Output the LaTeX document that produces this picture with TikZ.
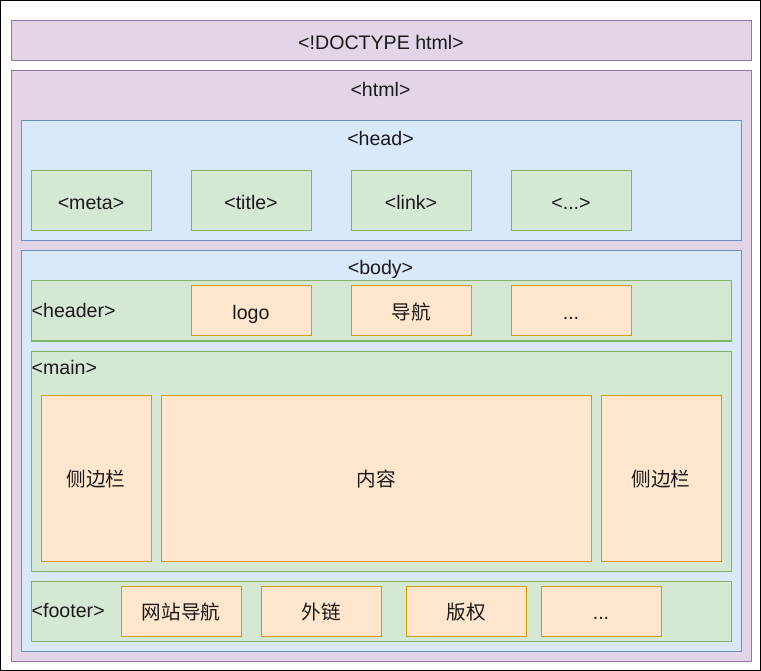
\documentclass[tikz,border=0pt]{standalone}
\usepackage{fontspec}
\setmainfont{Liberation Sans}
\newfontfamily\cjk{Noto Sans CJK SC}
\definecolor{pfill}{HTML}{E1D5E7}
\definecolor{pdraw}{HTML}{9673A6}
\definecolor{bfill}{HTML}{DAE8FC}
\definecolor{bdraw}{HTML}{6C8EBF}
\definecolor{gfill}{HTML}{D5E8D4}
\definecolor{gdraw}{HTML}{82B366}
\definecolor{ofill}{HTML}{FFE6CC}
\definecolor{odraw}{HTML}{D79B00}
\definecolor{txt}{HTML}{1A1A1A}
\tikzset{
  every node/.style={font=\fontsize{19.6pt}{23pt}\selectfont, text=txt},
  boxbase/.style={rectangle, line width=1pt, anchor=north west, inner sep=0pt,
    text height=17pt, text depth=0.4pt},
  purplebox/.style={boxbase, fill=pfill, draw=pdraw},
  bluebox/.style={boxbase, fill=bfill, draw=bdraw},
  greenbox/.style={boxbase, fill=gfill, draw=gdraw},
  orangebox/.style={boxbase, fill=ofill, draw=odraw},
  toplabel/.style={anchor=base, inner sep=0pt},
  leftlabel/.style={anchor=base west, inner sep=0pt},
}
\begin{document}
\begin{tikzpicture}[x=1pt, y=-1pt]
\useasboundingbox (0,0) rectangle (761,671);
\draw[line width=1.2pt, black] (0.6,0.6) rectangle (760.4,670.4);

% DOCTYPE
\node[purplebox, minimum width=740pt, minimum height=40pt] (doctype) at (10.5,20.5) {<!DOCTYPE html>};

% html
\node[purplebox, minimum width=740pt, minimum height=590pt] (html) at (10.5,70.5) {};
\node[toplabel] (htmllbl) at (380.5,97) {<html>};

% head
\node[bluebox, minimum width=720pt, minimum height=120pt] (head) at (20.5,120.5) {};
\node[toplabel] (headlbl) at (380.5,146) {<head>};
\node[greenbox, minimum width=120pt, minimum height=60pt] (meta) at (30.5,170.5) {<meta>};
\node[greenbox, minimum width=120pt, minimum height=60pt] (title) at (190.5,170.5) {<title>};
\node[greenbox, minimum width=120pt, minimum height=60pt] (link) at (350.5,170.5) {<link>};
\node[greenbox, minimum width=120pt, minimum height=60pt] (etc) at (510.5,170.5) {<...>};

% body
\node[bluebox, minimum width=720pt, minimum height=400pt] (body) at (20.5,250.5) {};
\node[toplabel] (bodylbl) at (380.5,275) {<body>};

% header
\node[greenbox, minimum width=700pt, minimum height=60pt] (header) at (30.5,280.5) {};
\node[leftlabel] (headerlbl) at (31.5,317.3) {<header>};
\node[orangebox, minimum width=120pt, minimum height=50pt] (logo) at (190.5,285.5) {logo};
\node[orangebox, minimum width=120pt, minimum height=50pt] (nav) at (350.5,285.5) {\cjk 导航};
\node[orangebox, minimum width=120pt, minimum height=50pt] (hetc) at (510.5,285.5) {...};

% main
\node[greenbox, minimum width=700pt, minimum height=220pt] (main) at (30.5,350.5) {};
\node[leftlabel] (mainlbl) at (31.5,374) {<main>};
\node[orangebox, minimum width=110pt, minimum height=166pt] (sideL) at (40.5,394.5) {\cjk 侧边栏};
\node[orangebox, minimum width=430pt, minimum height=166pt] (content) at (160.5,394.5) {\cjk 内容};
\node[orangebox, minimum width=120pt, minimum height=166pt] (sideR) at (600.5,394.5) {\cjk 侧边栏};

% footer
\node[greenbox, minimum width=700pt, minimum height=60pt] (footer) at (30.5,580.5) {};
\node[leftlabel] (footerlbl) at (31.5,617.3) {<footer>};
\node[orangebox, minimum width=120pt, minimum height=50pt] (sitenav) at (120.5,585.5) {\cjk 网站导航};
\node[orangebox, minimum width=120pt, minimum height=50pt] (extlink) at (260.5,585.5) {\cjk 外链};
\node[orangebox, minimum width=120pt, minimum height=50pt] (copyr) at (405.5,585.5) {\cjk 版权};
\node[orangebox, minimum width=120pt, minimum height=50pt] (fetc) at (540.5,585.5) {...};
\end{tikzpicture}
\end{document}
